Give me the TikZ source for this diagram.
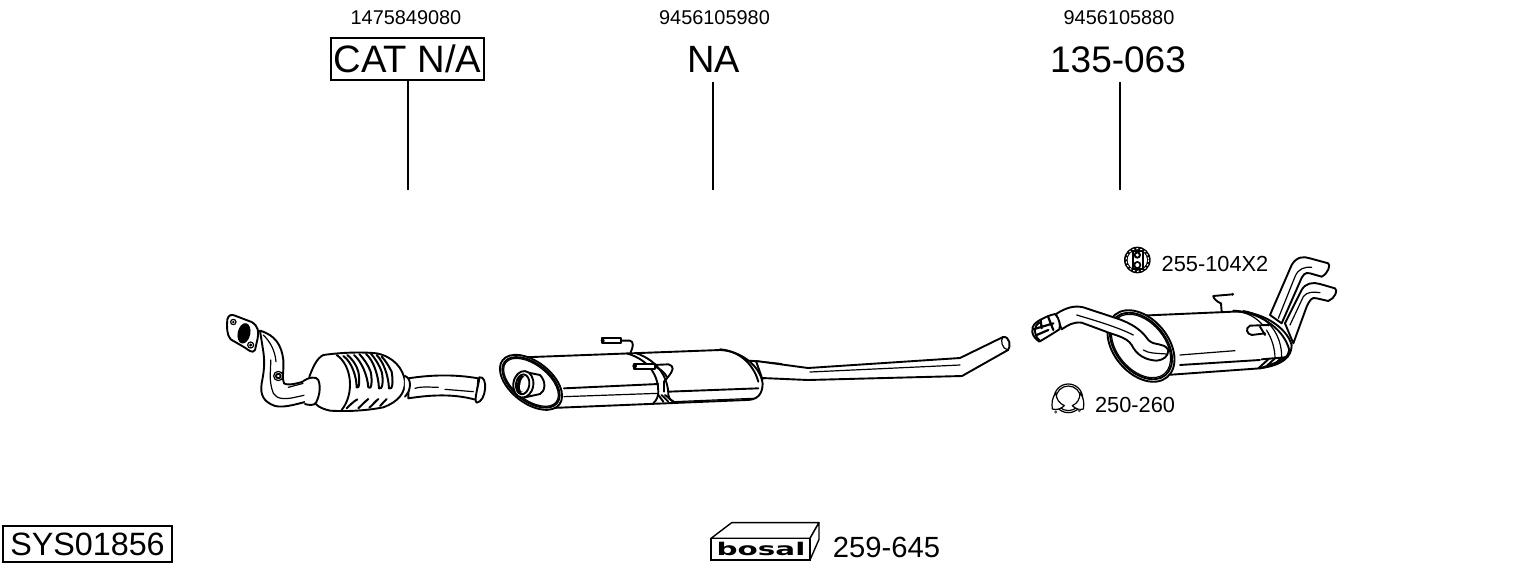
\documentclass[tikz,border=0pt]{standalone}
\usepackage{fontspec}
\setmainfont{Liberation Sans}
\newfontfamily\logofont{DejaVu Sans}
\tikzset{
  px/.style={inner sep=0pt,outer sep=0pt,anchor=center},
  partno/.style={px,font=\fontsize{19.9}{20}\selectfont},
  bigno/.style={px,font=\fontsize{38}{38}\selectfont},
  midno/.style={px,font=\fontsize{21.8}{22}\selectfont},
  framed/.style={draw=black,line width=1.2pt,fill=white},
  leader/.style={draw=black,line width=1.2pt},
  zoomA/.style={shift={(#1)},x=0.3333pt,y=-0.3333pt},
  ol/.style={draw=black,line width=1.9pt,line join=round,line cap=round},
  olw/.style={ol,fill=white},
  il/.style={draw=black,line width=1.2pt,line cap=round,line join=round},
}
\begin{document}
\begin{tikzpicture}[x=1pt,y=-1pt]
\useasboundingbox (0,0) rectangle (1530,566);
\fill[white] (0,0) rectangle (1530,566);
% texts
\node[partno] (p1) at (406,17.5) {1475849080};
\node[partno] (p2) at (714.5,17.5) {9456105980};
\node[partno] (p3) at (1119,17.5) {9456105880};
\node[framed,minimum width=153pt,minimum height=42pt,inner sep=0pt,font=\fontsize{38.2}{38}\selectfont] (cat) at (407.5,59) {CAT N/A};
\node[bigno] (na) at (713.5,59.5) {NA};
\node[bigno,font=\fontsize{37}{38}\selectfont] (ref) at (1118,59.5) {135-063};
\coordinate (l1) at (408,190);
\coordinate (l2) at (713,190);
\coordinate (l3) at (1120,190);
\coordinate (n1) at (713,82);
\coordinate (n3) at (1120,82);
\draw[leader] (cat.south -| l1) -- (l1);
\draw[leader] (n1) -- (l2);
\draw[leader] (n3) -- (l3);
\node[framed,minimum width=169pt,minimum height=36pt,inner sep=0pt,font=\fontsize{32.3}{33}\selectfont] (sys) at (87.5,544) {SYS01856};
\node[px,font=\fontsize{29.2}{30}\selectfont] (kit) at (886.5,547) {259-645};
\node[midno] (mnt) at (1215,263.5) {255-104X2};
\node[midno] (clp) at (1135,404.5) {250-260};

% ---- catalytic converter
\begin{scope}[zoomA={210,300}]
\path[olw] (150,92) .. controls (195,105) and (215,135) .. (220,180) .. controls (222,215) and (215,235) .. (222,250) .. controls (235,258) and (265,250) .. (295,240) -- (310,300) .. controls (265,310) and (225,325) .. (195,318) .. controls (160,305) and (150,285) .. (155,250) .. controls (162,215) and (165,190) .. (160,155) -- cycle;
\draw[il] (160,105) .. controls (180,125) and (195,150) .. (198,185);
\draw[il] (182,180) .. controls (183,215) and (175,240) .. (190,280) .. controls (200,298) and (225,298) .. (250,293) -- (300,282);
\draw[il] (235,262) -- (280,250);
\path[olw] (52,58) .. controls (55,45) and (65,42) .. (75,47) -- (125,66) .. controls (145,78) and (147,95) .. (143,115) -- (135,150) .. controls (128,162) and (115,150) .. (105,143) -- (62,118) .. controls (50,105) and (50,80) .. (52,58) -- cycle;
\fill[black,rotate around={-12:(102,100)}] (102,100) ellipse (19 and 31);
\draw[il,fill=white] (70,66) circle (8);
\fill[black] (70,66) circle (4);
\draw[il,fill=white] (122,135) circle (9);
\fill[black] (122,135) circle (5);
\draw[il,fill=white] (205,228) circle (14);
\draw[ol,fill=white] (205,228) circle (7);
% outlet
\path[olw] (595,235) .. controls (660,225) and (730,222) .. (805,235) -- (800,300) .. controls (730,280) and (660,285) .. (595,295) -- cycle;
\draw[il] (615,265) .. controls (640,258) and (660,262) .. (685,262);
\draw[il] (705,268) -- (790,275);
\path[olw] (808,232) .. controls (835,225) and (830,305) .. (800,308) .. controls (790,300) and (808,250) .. (808,232) -- cycle;
% body
\path[olw] (340,165) .. controls (390,158) and (450,155) .. (500,160) .. controls (550,170) and (580,205) .. (585,245) .. controls (585,280) and (565,305) .. (520,322) .. controls (470,332) and (410,335) .. (360,332) .. controls (330,325) and (315,315) .. (310,300) .. controls (300,270) and (295,230) .. (300,225) .. controls (310,200) and (320,175) .. (340,165) -- cycle;
\draw[ol] (380,165) .. controls (425,195) and (435,280) .. (395,330);
\path[olw] (280,243) .. controls (295,232) and (320,228) .. (325,240) .. controls (335,265) and (325,295) .. (318,308) .. controls (312,318) and (295,315) .. (285,312);
\path[olw] (585,228) .. controls (605,235) and (605,270) .. (585,290);
\draw[ol,line width=2pt] (400,168) .. controls (425,185) and (440,230) .. (440,262) .. controls (448,270) and (450,240) .. (445,215) .. controls (440,195) and (425,175) .. (412,165);
\draw[ol,line width=2pt] (432,165) .. controls (455,185) and (472,225) .. (475,262) .. controls (484,272) and (488,245) .. (482,215) .. controls (475,195) and (460,175) .. (448,162);
\draw[ol,line width=2pt] (468,162) .. controls (490,180) and (505,225) .. (507,265) .. controls (516,272) and (522,245) .. (515,215) .. controls (508,195) and (495,175) .. (482,160);
\draw[ol,line width=2pt] (500,165) .. controls (520,185) and (535,225) .. (537,265) .. controls (548,272) and (550,245) .. (545,215) .. controls (535,195) and (525,180) .. (515,170);
\draw[ol,line width=2pt] (410,325) .. controls (420,315) and (430,305) .. (442,298);
\draw[ol,line width=2pt] (445,325) .. controls (455,315) and (465,305) .. (475,297);
\draw[ol,line width=2pt] (478,323) .. controls (488,315) and (495,305) .. (505,297);
\draw[ol,line width=2pt] (510,318) .. controls (518,310) and (522,305) .. (530,297);
\end{scope}

% ---- centre silencer
\begin{scope}[zoomA={490,320}]
\path[olw] (780,122) -- (875,132) -- (875,162) -- (800,180) -- cycle;
\path[olw] (100,112) -- (690,90) .. controls (750,92) and (810,135) .. (818,190) .. controls (818,225) and (800,240) .. (770,240) -- (160,265) -- cycle;
\draw[ol] (222,205) -- (505,192);
\draw[il] (222,230) -- (505,220);
\draw[ol] (535,215) -- (805,205);
\draw[il] (555,245) -- (790,235);
\draw[ol] (410,100) .. controls (480,120) and (505,170) .. (505,215) .. controls (505,230) and (500,240) .. (490,250);
\draw[ol] (440,100) .. controls (510,125) and (535,180) .. (535,225) .. controls (535,235) and (540,240) .. (555,247);
\draw[ol] (505,225) -- (520,245) (515,225) -- (535,245) (525,225) -- (550,245);
\draw[ol] (690,88) .. controls (745,92) and (790,130) .. (805,185);
% hanger 1
\draw[ol] (345,62) -- (420,62) .. controls (432,65) and (430,80) .. (422,97);
\draw[olw,fill=white] (337,55) rectangle (392,69);
\fill[black] (338,62) circle (6);
% hanger 2
\draw[ol] (490,135) -- (535,133) .. controls (555,140) and (550,150) .. (535,170) -- (522,185) -- (522,215);
\draw[ol] (500,142) .. controls (515,150) and (525,160) .. (530,170);
\draw[olw] (432,131) rectangle (495,146);
\fill[black] (434,138) circle (7);
% end face
\draw[olw,rotate around={-38:(123,187)}] (123,187) ellipse (108 and 62);
\draw[ol,rotate around={-38:(123,187)}] (123,187) ellipse (100 and 56);
\draw[il,rotate around={-38:(123,187)}] (123,187) ellipse (96 and 52);
% outlet stub
\path[olw] (100,155) -- (150,165) .. controls (170,185) and (165,215) .. (150,222) -- (105,232) -- cycle;
\draw[olw,rotate around={-8:(100,193)}] (100,193) ellipse (30 and 40);
\draw[ol,fill=white,rotate around={-8:(98,193)}] (98,193) ellipse (20 and 30);
\fill[black,rotate around={-10:(93,193)}] (93,193) ellipse (12 and 27);
\fill[white,rotate around={-10:(99,193)}] (99,193) ellipse (8 and 22);
\end{scope}
% tail pipe
\path[olw] (756,361) -- (808,368) -- (960,358) -- (1003,337) .. controls (1010,336) and (1011,347) .. (1008,350) -- (962,376) -- (808,380) -- (762,378) -- cycle;
\draw[il] (1003,337) .. controls (1000,340) and (1002,349) .. (1008,350);
\draw[il] (810,372) -- (960,365);

% ---- rear silencer
\begin{scope}[zoomA={1020,240}]
% tail pipes
\path[olw] (750,225) -- (815,75) .. controls (830,50) and (850,48) .. (870,55) -- (925,70) .. controls (932,75) and (925,100) .. (905,110) -- (870,100) .. controls (855,95) and (848,105) .. (840,125) -- (785,250) -- cycle;
\draw[il] (775,235) -- (825,110) .. controls (835,85) and (855,80) .. (875,82);
\path[olw] (795,250) -- (845,150) .. controls (855,130) and (880,125) .. (900,132) -- (945,145) .. controls (955,150) and (945,175) .. (925,183) -- (890,175) .. controls (875,170) and (870,180) .. (860,200) -- (820,310) -- cycle;
\draw[il] (810,255) -- (850,170) .. controls (860,155) and (880,155) .. (900,158);
% body
\path[olw] (340,228) -- (640,215) .. controls (720,210) and (800,260) .. (815,315) .. controls (815,350) and (790,375) .. (720,385) -- (440,405) -- cycle;
\draw[ol] (640,212) .. controls (710,215) and (790,260) .. (808,330) .. controls (805,350) and (795,360) .. (720,385);
\draw[il] (655,215) .. controls (730,225) and (765,300) .. (765,355);
\draw[il] (670,212) .. controls (745,225) and (785,285) .. (785,350);
\draw[il] (480,345) -- (645,332);
\draw[ol] (480,375) -- (720,360);
\draw[ol] (725,358) -- (795,352);
\draw[ol] (715,385) -- (745,358) (740,378) -- (765,355) (765,372) -- (785,352);
% hanger top
\draw[ol] (605,215) -- (603,190) .. controls (590,185) and (580,175) .. (580,168) -- (638,163);
\fill[black] (638,163) circle (4.5);
% hanger side
\draw[ol,fill=white] (745,255) -- (690,257) .. controls (675,265) and (680,282) .. (695,285) -- (735,280);
\draw[ol] (720,260) -- (735,285);
\fill[black] (745,255) circle (4.5);
% end face
\draw[olw,rotate around={-50:(363,318)}] (363,318) ellipse (122 and 82);
\draw[ol,rotate around={-50:(363,318)}] (363,318) ellipse (114 and 75);
\draw[il,rotate around={-50:(363,318)}] (363,318) ellipse (109 and 71);
% inlet pipe
\path[olw] (108,222) .. controls (135,205) and (160,195) .. (190,202) -- (290,235) .. controls (335,250) and (365,270) .. (385,300) .. controls (405,320) and (430,305) .. (445,330) .. controls (445,350) and (430,360) .. (410,362) .. controls (375,360) and (350,345) .. (335,315) .. controls (320,290) and (280,285) .. (250,272) -- (185,248) .. controls (160,245) and (145,255) .. (125,268) -- cycle;
\draw[il] (170,225) .. controls (220,240) and (290,260) .. (340,285);
\draw[il] (370,330) .. controls (385,340) and (410,340) .. (440,342);
\path[olw] (48,248) .. controls (65,235) and (90,225) .. (105,222) .. controls (118,235) and (122,255) .. (118,268) .. controls (100,280) and (75,295) .. (58,305) .. controls (35,290) and (28,265) .. (48,248) -- cycle;
\draw[ol] (58,248) .. controls (40,260) and (40,285) .. (58,300);
\draw[ol,line width=2.2pt] (40,268) -- (100,250) (62,240) -- (65,265) (50,285) -- (85,270) (85,232) -- (100,270);
% rubber mount
\fill[black] (352,60) circle (40);
\fill[white] (352,60) circle (29);
\draw[white,line width=1pt,dash pattern=on 2pt off 2pt] (352,60) circle (34);
\draw[ol,fill=white] (338,33) -- (368,33) -- (368,87) -- (338,87) -- cycle;
\fill[black] (352,45) circle (11);
\fill[black] (352,75) circle (12);
\fill[white] (352,45) circle (5);
\fill[white] (352,75) circle (6);
% clamp
\draw[il] (145,475) circle (43);
\draw[il] (145,475) circle (37);
\draw[il,fill=white] (108,458) .. controls (95,475) and (95,490) .. (97,507) .. controls (110,512) and (125,505) .. (133,497) .. controls (118,490) and (108,478) .. (108,458) -- cycle;
\draw[il,fill=white] (180,458) .. controls (192,475) and (193,490) .. (190,507) .. controls (178,512) and (165,505) .. (157,497) .. controls (172,490) and (180,478) .. (180,458) -- cycle;
\fill[black!70] (107,516) circle (5);
\fill[black!70] (178,512) circle (5);
\end{scope}

% ---- kit box
\begin{scope}[zoomA={700,510}]
\draw[black,line width=1.4pt,line join=round,fill=white] (33,85) -- (95,38) -- (357,38) -- (330,85) -- cycle;
\draw[black,line width=1.4pt,line join=round,fill=white] (357,38) -- (357,88) -- (330,150) -- (330,85) -- cycle;
\draw[black,line width=1.4pt,fill=white] (33,85) rectangle (330,150);
\node[px,font=\logofont\bfseries\fontsize{17.5}{18}\selectfont,xscale=1.68] (logo) at (183,117) {bosal};
\end{scope}
\end{tikzpicture}
\end{document}
